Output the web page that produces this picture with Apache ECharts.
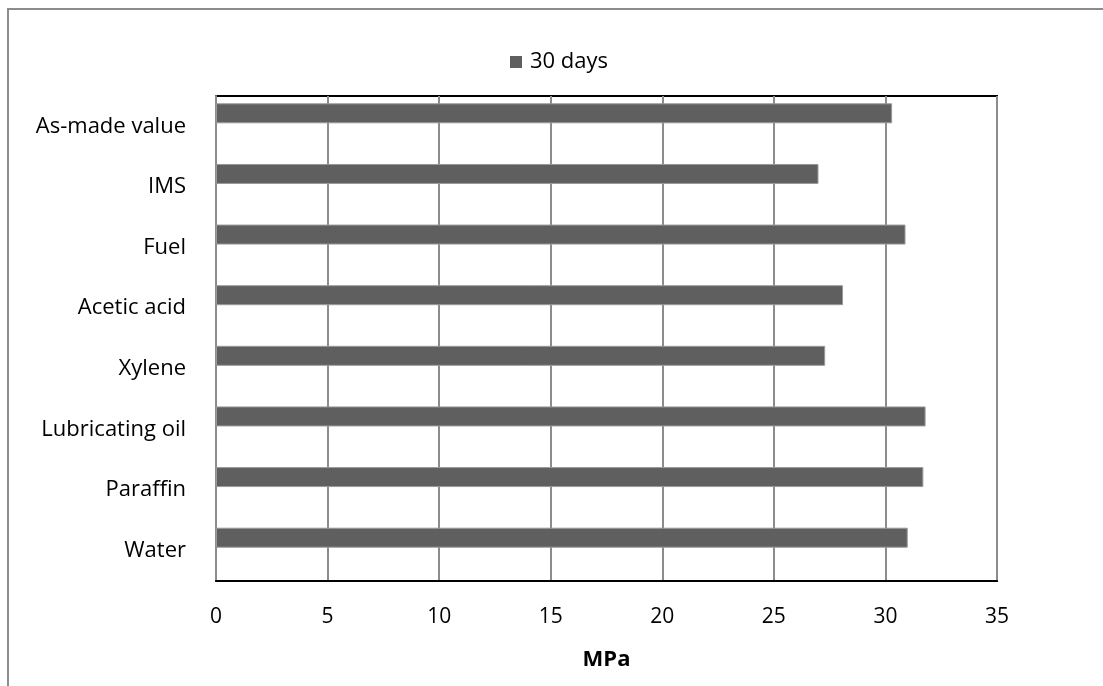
<!DOCTYPE html>
<html>
<head>
<meta charset="utf-8">
<script src="https://cdn.jsdelivr.net/npm/echarts@6/dist/echarts.min.js"></script>
<style>
html,body{margin:0;padding:0;background:#fff;}
#frame{position:absolute;left:7px;top:8px;width:1096px;height:678px;border-top:2px solid #8c8c8c;border-left:2px solid #8c8c8c;box-sizing:border-box;}
#chart{position:absolute;left:0;top:0;width:1103px;height:686px;}
</style>
</head>
<body>
<div id="frame"></div>
<div id="chart"></div>
<script>
const categories = ['As-made value', 'IMS', 'Fuel', 'Acetic acid', 'Xylene', 'Lubricating oil', 'Paraffin', 'Water'];
const values30 = [30.3, 27.0, 30.9, 28.1, 27.3, 31.8, 31.7, 31.0];
const xTicks = [0, 5, 10, 15, 20, 25, 30, 35];
const seriesName = '30 days';
const axisName = 'MPa';

const font = '"Open Sans", sans-serif';
const chart = echarts.init(document.getElementById('chart'));
chart.setOption({
  animation: false,
  backgroundColor: 'transparent',
  legend: {
    data: [seriesName],
    top: 46,
    left: 505,
    itemWidth: 12,
    itemHeight: 12,
    itemGap: 6,
    icon: 'rect',
    itemStyle: { borderWidth: 0 },
    textStyle: { fontFamily: font, fontSize: 22, color: '#000', padding: [0, 0, 0, 3] }
  },
  grid: {
    left: 216, right: 106, top: 96, bottom: 105,
    show: true, borderColor: '#000', borderWidth: 2, backgroundColor: 'transparent'
  },
  xAxis: {
    type: 'value',
    min: xTicks[0],
    max: xTicks[xTicks.length - 1],
    interval: 5,
    name: axisName,
    nameLocation: 'middle',
    nameGap: 68,
    nameTextStyle: { fontFamily: font, fontSize: 22, fontWeight: 'bold', color: '#000' },
    axisLine: { show: true, lineStyle: { color: '#000', width: 2 } },
    axisTick: { show: false },
    axisLabel: { fontFamily: font, fontSize: 21, color: '#000', margin: 26 },
    splitLine: { show: true, lineStyle: { color: '#8c8c8c', width: 2 } }
  },
  yAxis: {
    type: 'category',
    data: categories,
    inverse: true,
    axisLine: { show: true, onZero: false, lineStyle: { color: '#8c8c8c', width: 2 } },
    axisTick: { show: false },
    axisLabel: { fontFamily: font, fontSize: 22, color: '#000', margin: 30 },
    splitLine: { show: false }
  },
  series: [
    {
      name: seriesName,
      type: 'bar',
      data: values30,
      barWidth: 20,
      barGap: '30%',
      itemStyle: { color: '#5f5f5f', borderColor: '#9a9a9a', borderWidth: 1 }
    },
    {
      name: 'blank',
      type: 'bar',
      data: [],
      barWidth: 20
    }
  ]
});
</script>
</body>
</html>
